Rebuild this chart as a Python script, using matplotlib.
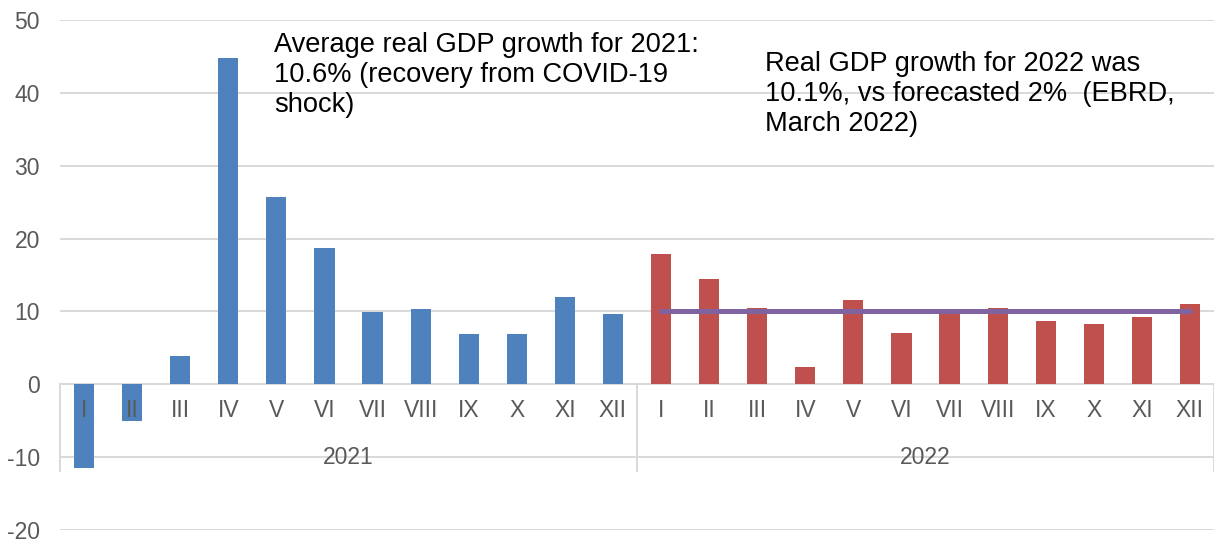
import matplotlib.pyplot as plt
import numpy as np

plt.rcParams['font.family'] = ['Liberation Sans', 'DejaVu Sans']

months = ['I', 'II', 'III', 'IV', 'V', 'VI', 'VII', 'VIII', 'IX', 'X', 'XI', 'XII']
years = ['2021', '2022']
gdp_2021 = [-11.5, -5.1, 3.9, 44.8, 25.7, 18.7, 9.9, 10.3, 6.9, 6.9, 12.0, 9.6]
gdp_2022 = [17.9, 14.5, 10.5, 2.4, 11.6, 7.1, 10.0, 10.5, 8.7, 8.3, 9.3, 11.0]
avg_2022 = 10.1
yticks = [-20, -10, 0, 10, 20, 30, 40, 50]

W, H = 1214, 539
fig = plt.figure(figsize=(W / 100, H / 100), dpi=100)
ax = fig.add_axes([60 / W, 1 - 530 / H, 1 - 60 / W, (530 - 20) / H])

x1 = np.arange(12)
x2 = np.arange(12, 24)
ax.bar(x1, gdp_2021, width=0.42, color='#4f81bd', zorder=2)
ax.bar(x2, gdp_2022, width=0.42, color='#c0504d', zorder=2)
ax.plot([x2[0], x2[-1]], [avg_2022, avg_2022], color='#8064a2', linewidth=3.6, zorder=3,
        solid_capstyle='round')

ax.set_xlim(-0.5, 23.5)
ax.set_ylim(-20, 50)
ax.set_yticks(yticks)
ax.set_yticklabels([str(v) for v in yticks])
ax.yaxis.grid(True, color='#d9d9d9', linewidth=1.4, zorder=0)
ax.set_axisbelow(True)
for s in ax.spines.values():
    s.set_visible(False)
ax.tick_params(axis='y', length=0, labelsize=16.5, labelcolor='#595959', pad=14.5)
ax.set_xticks([])

# category axis at zero
ax.axhline(0, color='#d9d9d9', linewidth=1.4, zorder=1)
for xs in [-0.5, 11.5, 23.5]:
    ax.plot([xs, xs], [0, -11.9], color='#d9d9d9', linewidth=1.4, zorder=1, clip_on=False)

labels = months + months
for i, lab in enumerate(labels):
    ax.text(i, -3.6, lab, ha='center', va='center', fontsize=16.5, color='#595959', zorder=4)
for j, yr in enumerate(years):
    ax.text(j * 12 + 5.5, -10.0, yr, ha='center', va='center', fontsize=16.5, color='#595959',
            zorder=4)

fig.text(274 / W, 1 - 32 / H,
         'Average real GDP growth for 2021:\n10.6% (recovery from COVID-19\nshock)',
         ha='left', va='top', fontsize=19.6, color='black', linespacing=1.19)
fig.text(765 / W, 1 - 51 / H,
         'Real GDP growth for 2022 was\n10.1%, vs forecasted 2%  (EBRD,\nMarch 2022)',
         ha='left', va='top', fontsize=19.6, color='black', linespacing=1.19)

fig.savefig('out.png', dpi=100)
